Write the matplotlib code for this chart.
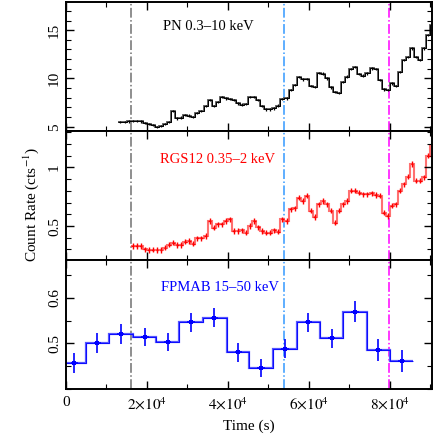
import numpy as np
import matplotlib
matplotlib.use("Agg")
import matplotlib.pyplot as plt
from matplotlib.ticker import MultipleLocator, FixedLocator

plt.rcParams['font.family'] = ['Liberation Serif', 'DejaVu Serif']
plt.rcParams['mathtext.fontset'] = 'stix'

# ---------------- data ----------------
pn_start = 13000.0
pn_binw = 1000.0
pn_rate = [5.49, 5.49, 5.55, 5.62, 5.62, 5.55, 5.41, 5.30, 5.18, 5.00,
           5.10, 5.30, 5.52, 6.66, 5.87, 5.95, 6.21, 6.15, 6.04, 6.45,
           6.60, 7.14, 7.76, 7.14, 7.59, 8.11, 7.94, 7.85, 7.76, 7.42,
           7.30, 7.35, 8.11, 8.11, 7.76, 7.14, 6.80, 6.80, 6.90, 7.20,
           7.84, 7.94, 8.80, 9.32, 10.18, 9.90, 9.95, 9.20, 9.10, 10.59,
           10.50, 10.00, 9.08, 8.62, 8.46, 9.66, 10.20, 11.00, 11.21, 10.46,
           10.30, 10.53, 11.04, 11.00, 9.83, 8.87, 8.80, 9.49, 9.21, 10.70,
           11.90, 12.25, 13.11, 12.25, 11.90, 13.11, 14.49, 15.53]
pn_err = 0.12

rgs_start = 16000.0
rgs_binw = 1000.0
rgs_rate = [0.329, 0.329, 0.329, 0.300, 0.295, 0.298, 0.295, 0.295, 0.314, 0.340,
            0.357, 0.338, 0.338, 0.365, 0.372, 0.349, 0.394, 0.394, 0.415, 0.543,
            0.486, 0.514, 0.514, 0.543, 0.557, 0.457, 0.457, 0.465, 0.443, 0.500,
            0.543, 0.490, 0.457, 0.443, 0.443, 0.465, 0.450, 0.557, 0.543, 0.643,
            0.650, 0.743, 0.714, 0.757, 0.629, 0.577, 0.686, 0.714, 0.686, 0.629,
            0.529, 0.629, 0.686, 0.714, 0.800, 0.800, 0.785, 0.771, 0.771, 0.780,
            0.765, 0.757, 0.614, 0.586, 0.672, 0.686, 0.800, 0.857, 0.920, 1.029,
            0.886, 0.886, 0.914, 1.100, 1.186]
rgs_err = 0.022

fpm_time = [2130, 7810, 13570, 19580, 25180, 30940, 36700, 42620,
            48220, 54150, 59910, 65670, 71430, 77190, 82950]
fpm_halfw = 2880
fpm_rate = [0.4565, 0.500, 0.521, 0.514, 0.503, 0.546, 0.556, 0.480,
            0.446, 0.488, 0.546, 0.511, 0.569, 0.485, 0.462]
fpm_err = [0.022, 0.022, 0.022, 0.020, 0.020, 0.021, 0.021, 0.020,
           0.020, 0.021, 0.021, 0.021, 0.023, 0.024, 0.024]

vlines = [16050, 54000, 79700]
vline_colors = ['#707070', '#3399ff', '#ff00ff']

xticks = [0, 20000, 40000, 60000, 80000]
xticklabels = ['0', r'$2{\times}10^4$', r'$4{\times}10^4$', r'$6{\times}10^4$', r'$8{\times}10^4$']

# ---------------- figure ----------------
fig = plt.figure(figsize=(4.36, 4.36), dpi=100)
gs = fig.add_gridspec(3, 1, left=0.151, right=0.991, top=0.995, bottom=0.108, hspace=0)
axes = [fig.add_subplot(gs[i]) for i in range(3)]

def binned(start, w, vals):
    n = len(vals)
    edges = start + w * np.arange(n + 1)
    centers = start + w * (np.arange(n) + 0.5)
    return edges, centers

# PN
ax = axes[0]
edges, centers = binned(pn_start, pn_binw, pn_rate)
ax.stairs(pn_rate, edges, color='#555555', lw=1.3, baseline=None)
ax.errorbar(centers, pn_rate, yerr=pn_err, fmt='none', ecolor='black', elinewidth=0.9)
ax.stairs(pn_rate, edges, color='black', lw=0.7, baseline=None)
ax.set_ylim(4.55, 17.9)
ax.yaxis.set_major_locator(FixedLocator([5, 10, 15]))
ax.yaxis.set_minor_locator(MultipleLocator(1))
ax.text(0.39, 0.81, 'PN 0.3\u201210 keV', transform=ax.transAxes, ha='center', va='center',
        fontsize=10.5, color='black')

# RGS
ax = axes[1]
edges, centers = binned(rgs_start, rgs_binw, rgs_rate)
ax.stairs(rgs_rate, edges, color='#ff7070', lw=1.5, baseline=None)
ax.errorbar(centers, rgs_rate, yerr=rgs_err, xerr=rgs_binw * 0.35, fmt='none',
            ecolor='red', elinewidth=1.0)
ax.set_ylim(0.21, 1.31)
ax.yaxis.set_major_locator(FixedLocator([0.5, 1.0]))
ax.yaxis.set_minor_locator(MultipleLocator(0.1))
ax.set_yticklabels(['0.5', '1'])
ax.text(0.415, 0.78, 'RGS12 0.35\u20122 keV', transform=ax.transAxes, ha='center', va='center',
        fontsize=10.5, color='red')

# FPMA+B
ax = axes[2]
ft = np.array(fpm_time, dtype=float)
fedges = np.concatenate([ft - fpm_halfw, [ft[-1] + fpm_halfw]])
ax.stairs(fpm_rate, fedges, color='#5555ff', lw=1.6, baseline=None)
ax.stairs(fpm_rate, fedges, color='blue', lw=0.6, baseline=None)
ax.errorbar(ft, fpm_rate, yerr=fpm_err, xerr=900, fmt='s', ms=3.5, color='blue',
            ecolor='blue', elinewidth=1.2, mew=0)
ax.set_ylim(0.40, 0.683)
ax.yaxis.set_major_locator(FixedLocator([0.5, 0.6]))
ax.yaxis.set_minor_locator(MultipleLocator(0.05))
ax.text(0.42, 0.79, 'FPMAB 15\u201250 keV', transform=ax.transAxes, ha='center', va='center',
        fontsize=10.5, color='blue')

for i, ax in enumerate(axes):
    ax.set_xlim(0, 90450)
    ax.set_xticks(xticks)
    ax.xaxis.set_minor_locator(MultipleLocator(10000))
    for v, c in zip(vlines, vline_colors):
        ax.axvline(v, color=c, ls='-.', lw=1.1, zorder=0.5)
    ax.tick_params(which='both', direction='in', top=True, right=True, labelsize=11)
    ax.tick_params(which='major', length=6, width=1.0)
    ax.tick_params(which='minor', length=3.5, width=0.8)
    ax.tick_params(axis='x', pad=5)
    for lab in ax.get_yticklabels():
        lab.set_rotation(90)
        lab.set_va('center')
    for s in ax.spines.values():
        s.set_linewidth(1.4)
    if i < 2:
        ax.set_xticklabels([])
    else:
        ax.set_xticklabels(xticklabels)

axes[2].set_xlabel('Time (s)', fontsize=11, labelpad=5)
fig.text(0.072, 0.53, r'Count Rate (cts$^{-1}$)', rotation=90, ha='center', va='center', fontsize=11)

fig.savefig('out.png', dpi=100)
